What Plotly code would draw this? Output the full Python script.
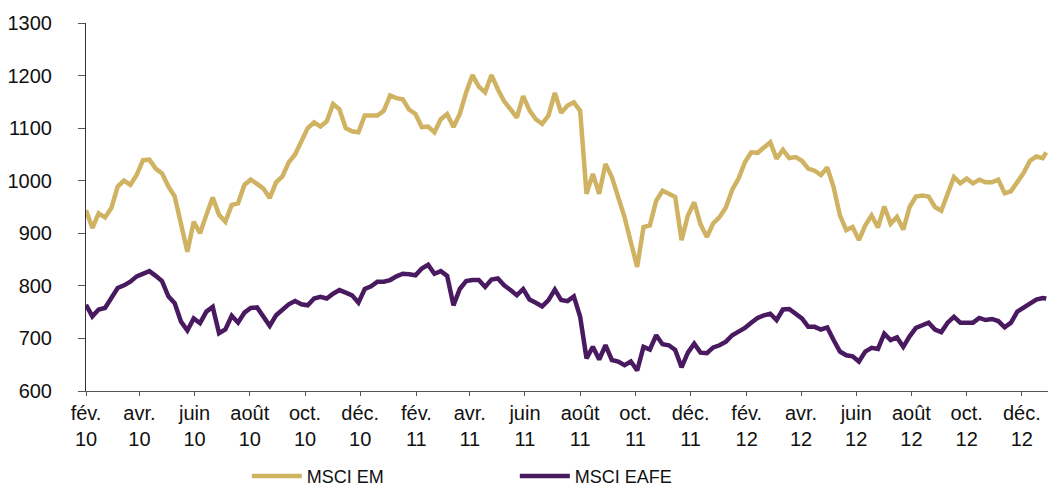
import pandas as pd
import plotly.graph_objects as go

week_start = "2010-02-01"
n_weeks = 152
last_date = "2012-12-28"

msci_em = [
    944, 910, 938, 930, 948, 989, 1000, 992, 1011, 1039, 1040, 1023, 1014, 989, 970, 919, 865, 922, 900, 935, 968, 935, 922, 954, 957, 992,
    1002, 994, 985, 967, 997, 1008, 1035, 1050, 1073, 1100, 1111, 1103, 1113, 1146, 1136, 1100, 1094, 1092, 1124, 1124, 1124, 1133, 1162, 1157, 1155, 1135,
    1127, 1102, 1103, 1092, 1117, 1127, 1102, 1127, 1168, 1201, 1179, 1168, 1201, 1174, 1151, 1136, 1120, 1161, 1134, 1117, 1108, 1124, 1167, 1129, 1143,
    1149, 1133, 975, 1013, 975, 1032, 1007, 969, 931, 883, 836, 912, 915, 962, 981, 975, 969, 887, 934, 959, 917, 893, 919, 931, 949,
    983, 1004, 1035, 1054, 1053, 1062, 1073, 1042, 1059, 1043, 1045, 1038, 1023, 1019, 1011, 1025, 988, 934, 906, 912, 887, 915, 934, 911, 951,
    918, 931, 907, 950, 970, 972, 970, 950, 943, 975, 1007, 995, 1004, 995, 1002, 997, 997, 1002, 976, 980, 997, 1015, 1038, 1046, 1043,
    1054,
]

msci_eafe = [
    764, 742, 755, 758, 777, 796, 801, 808, 818, 824, 828, 819, 809, 780, 767, 732, 715, 738, 729, 751, 760, 710, 717, 743, 730, 749,
    758, 759, 741, 724, 744, 755, 765, 771, 765, 763, 776, 779, 776, 785, 792, 787, 782, 768, 794, 799, 808, 808, 811, 818, 823, 822,
    820, 833, 840, 823, 828, 819, 763, 794, 809, 811, 811, 798, 812, 814, 801, 792, 782, 794, 774, 768, 761, 773, 793, 773, 771,
    780, 741, 662, 684, 660, 687, 659, 656, 649, 656, 639, 684, 679, 706, 689, 687, 678, 645, 673, 690, 673, 672, 683, 687, 694,
    706, 713, 720, 730, 739, 744, 747, 735, 755, 756, 747, 738, 722, 722, 717, 721, 697, 675, 668, 666, 656, 675, 682, 680, 709,
    697, 702, 684, 704, 720, 725, 730, 717, 712, 730, 741, 730, 730, 730, 739, 735, 737, 733, 721, 730, 751, 759, 765, 774, 777,
    776,
]

tick_dates = [
    "2010-02-01", "2010-04-01", "2010-06-01", "2010-08-01", "2010-10-01", "2010-12-01",
    "2011-02-01", "2011-04-01", "2011-06-01", "2011-08-01", "2011-10-01", "2011-12-01",
    "2012-02-01", "2012-04-01", "2012-06-01", "2012-08-01", "2012-10-01", "2012-12-01",
]
tick_text = [
    "fév.<br>10", "avr.<br>10", "juin<br>10", "août<br>10", "oct.<br>10", "déc.<br>10",
    "fév.<br>11", "avr.<br>11", "juin<br>11", "août<br>11", "oct.<br>11", "déc.<br>11",
    "fév.<br>12", "avr.<br>12", "juin<br>12", "août<br>12", "oct.<br>12", "déc.<br>12",
]

dates = list(pd.date_range(week_start, periods=n_weeks, freq="7D")) + [pd.Timestamp(last_date)]

fig = go.Figure()
fig.add_trace(go.Scatter(x=dates, y=msci_em, mode="lines", name="MSCI EM",
                         line=dict(color="#CFB262", width=4.5)))
fig.add_trace(go.Scatter(x=dates, y=msci_eafe, mode="lines", name="MSCI EAFE",
                         line=dict(color="#4A1A60", width=4.5)))

# the page body has an 8px margin, so the figure is sized to fit the 1056x490 window
fig.update_layout(
    width=1048, height=482,
    margin=dict(l=78, r=7, t=15, b=99, autoexpand=False),
    paper_bgcolor="white", plot_bgcolor="white",
    font=dict(family="Liberation Sans, Arial, sans-serif", size=20, color="#111111"),
    showlegend=True,
    legend=dict(orientation="h", x=0.167, xanchor="left", y=-0.232, yanchor="middle",
                itemwidth=50, entrywidth=203, entrywidthmode="pixels",
                font=dict(size=18), bgcolor="rgba(0,0,0,0)"),
)
fig.update_xaxes(
    type="date", range=["2010-02-01", "2012-12-31"],
    tickmode="array", tickvals=tick_dates, ticktext=tick_text,
    showgrid=False, zeroline=False,
    showline=True, linecolor="#555555", linewidth=1,
    ticks="outside", ticklen=4, tickcolor="#555555",
)
fig.update_yaxes(
    range=[600, 1300], tickmode="linear", tick0=600, dtick=100,
    showgrid=False, zeroline=False,
    showline=True, linecolor="#333333", linewidth=1,
    ticks="outside", ticklen=7, tickcolor="#555555",
    ticklabelstandoff=22,
)

fig.write_html("out.html")
